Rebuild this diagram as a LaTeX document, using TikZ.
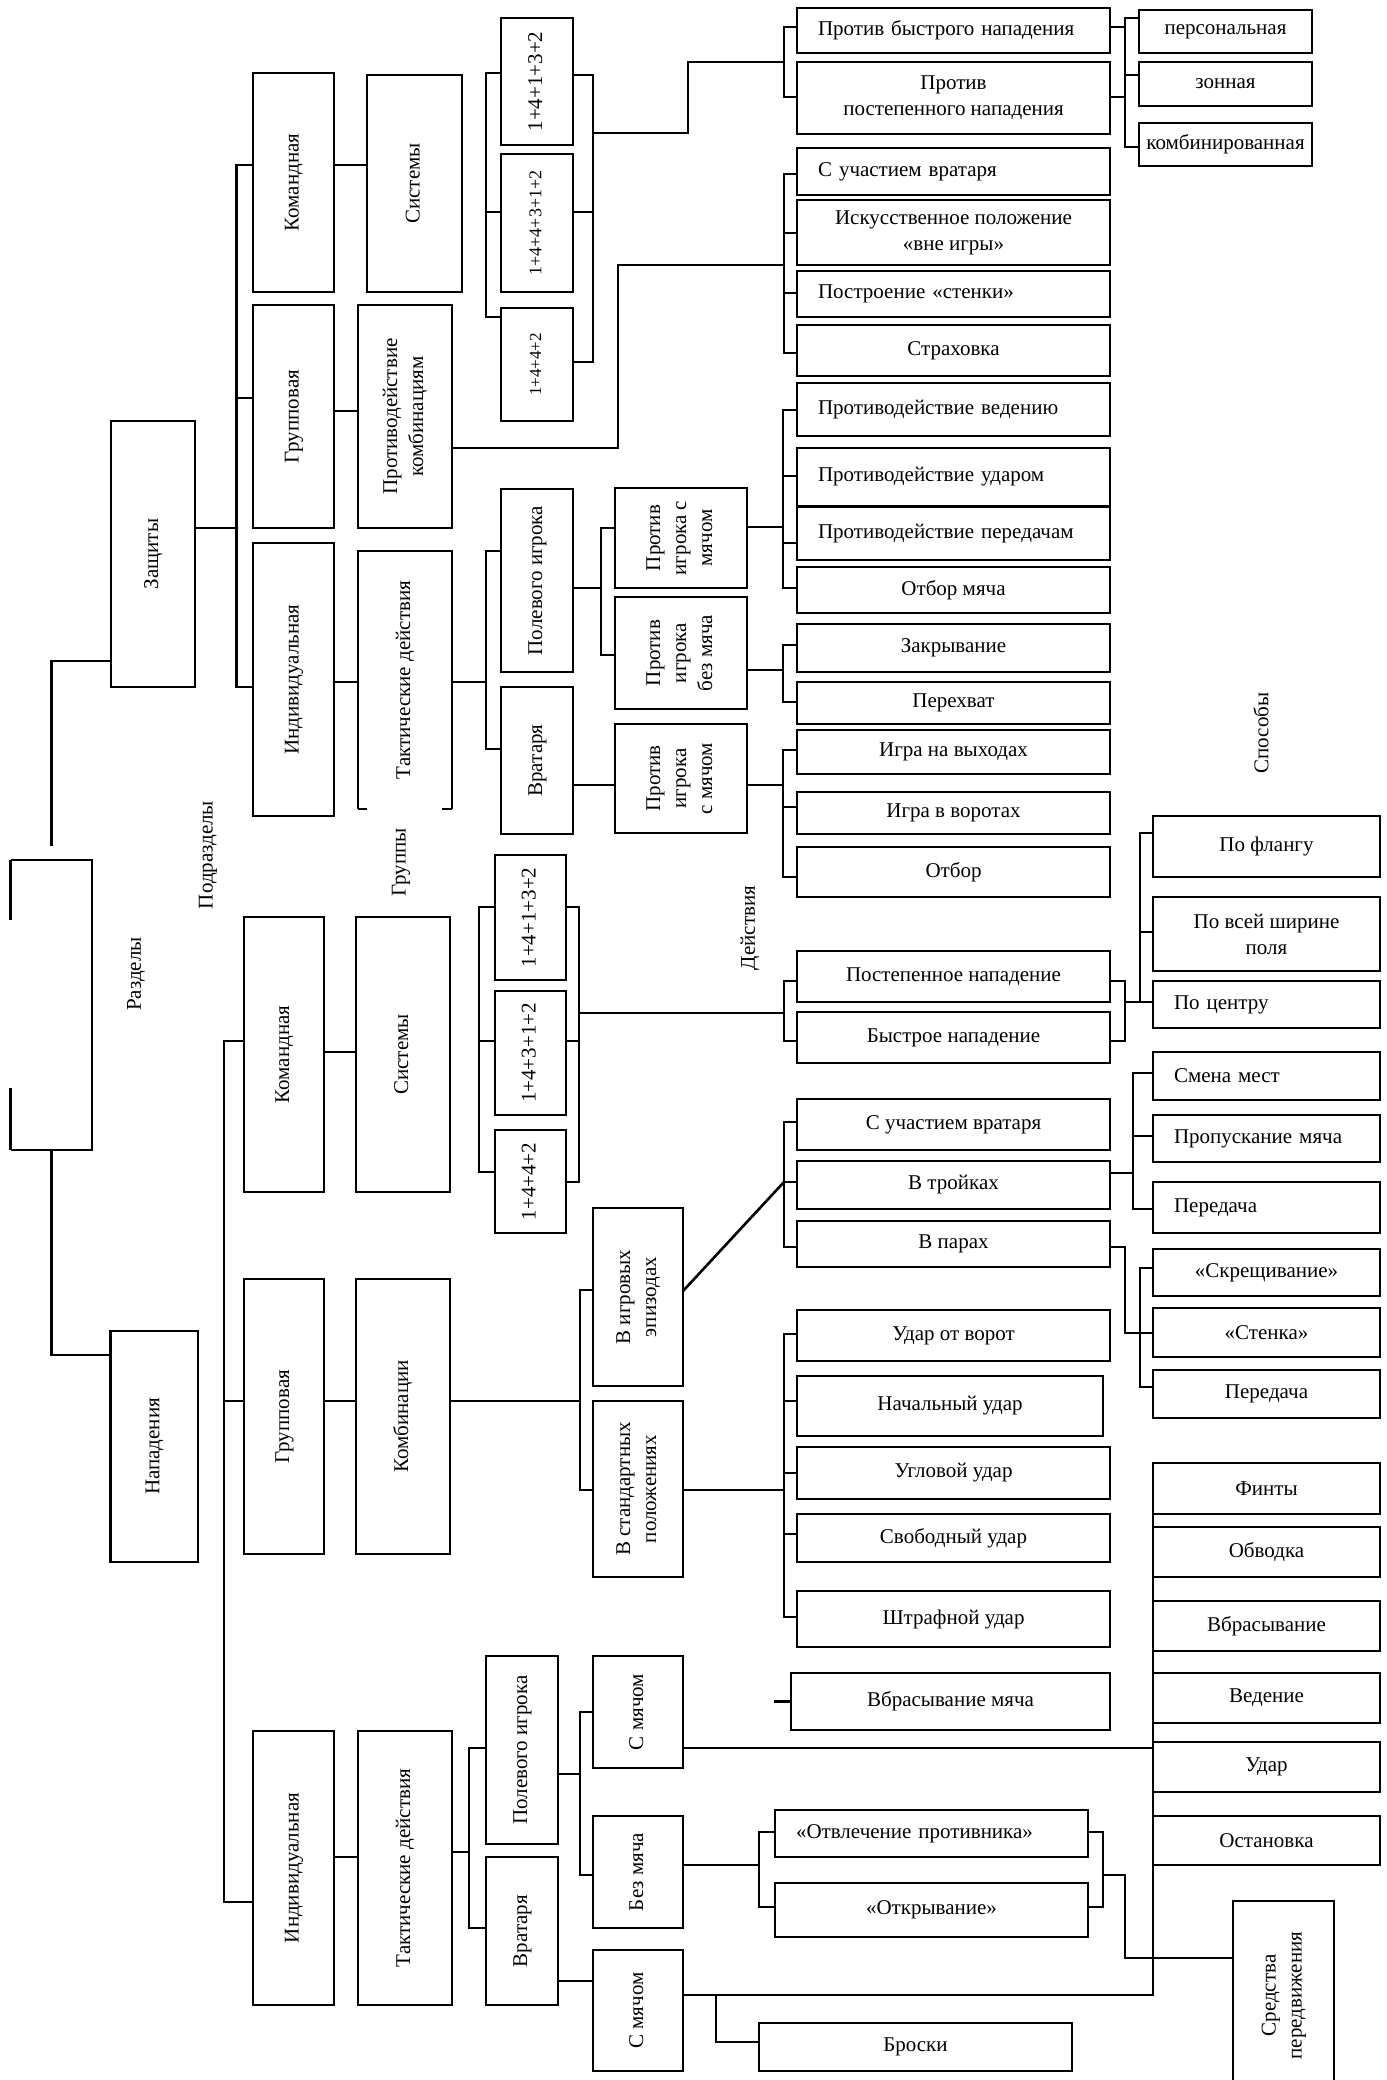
\documentclass[tikz,border=0pt]{standalone}
\usepackage{fontspec}
\setmainfont{Liberation Serif}
\usepackage{graphicx}
\newcommand\fnorm{\fontsize{10.5}{13}\selectfont}
\newcommand\fsmall{\fontsize{9}{11}\selectfont}
\newcommand\fsmaller{\fontsize{8.5}{10}\selectfont}
\newcommand\rtx[1]{\rotatebox{90}{\begin{tabular}{@{}c@{}}#1\end{tabular}}}
\newcommand\mybox[7][]{%
 \pgfmathsetmacro\bw{(#5-#3)*0.5}\pgfmathsetmacro\bh{(#6-#4)*0.5}%
 \node[box,minimum width=\bw pt,minimum height=\bh pt,#1] (#2) at ({(#3+#5)/2},{(#4+#6)/2}) {#7};}
\newcommand\myboxl[7][]{%
 \pgfmathsetmacro\bw{(#5-#3)*0.5}\pgfmathsetmacro\bh{(#6-#4)*0.5}\pgfmathsetmacro\tw{(#5-#3)*0.5-21}%
 \node[box,minimum width=\bw pt,minimum height=\bh pt,text width=\tw pt,align=left,#1] (#2) at ({(#3+#5)/2},{(#4+#6)/2}) {#7};}
\begin{document}
\begin{tikzpicture}[x=0.5pt,y=-0.5pt,line width=1.3pt,
  box/.style={draw,inner sep=0pt,outer sep=0pt,align=center,font=\fnorm},
  lbl/.style={inner sep=0pt,font=\fnorm,rotate=90}]
\useasboundingbox (0,0) rectangle (1386,2080);
% ---------- root ----------
\mybox[draw=none]{root}{10.6}{860}{92}{1150}{}
\draw (root.north west) -- ++(0,60);
\draw (root.south west) -- ++(0,-62);
\draw (root.north west) -- (root.north east) -- (root.south east) -- (root.south west);
\node[lbl] (lrazd) at (136,974) {Разделы};
\node[lbl] (lpodr) at (208,855) {Подразделы};
\node[lbl] (lgrup) at (401,862) {Группы};
\node[lbl] (ldeis) at (750,928) {Действия};
\node[lbl] (lspos) at (1261,733) {Способы};
% ---------- defence ----------
\mybox{zash}{111}{421}{195}{687}{\rtx{Защиты}}
\mybox{dkom}{253}{73}{334}{292}{\rtx{Командная}}
\mybox{dsys}{367}{75}{462}{292}{\rtx{Системы}}
\mybox{dgrp}{253}{305}{334}{528}{\rtx{Групповая}}
\mybox{dprk}{358}{305}{452}{528}{\rtx{Противодействие\\комбинациям}}
\mybox{dind}{253}{543}{334}{816}{\rtx{Индивидуальная}}
\mybox[draw=none]{dtak}{358}{551}{452}{809}{\rtx{Тактические действия}}
\draw (dtak.south west) -- (dtak.north west) -- (dtak.north east) -- (dtak.south east);
\draw (dtak.south west) -- ++(9,0);
\draw (dtak.south east) -- ++(-10,0);
\mybox{ds1}{501}{18}{573}{145}{\rtx{1+4+1+3+2}}
\mybox[font=\fsmall]{ds2}{501}{154}{573}{292}{\rtx{1+4+4+3+1+2}}
\mybox[font=\fsmaller]{ds3}{501}{308}{573}{421}{\rtx{1+4+4+2}}
\mybox{dpol}{501}{489}{573}{672}{\rtx{Полевого игрока}}
\mybox{dvr}{501}{687}{573}{834}{\rtx{Вратаря}}
\mybox{dpsm}{615}{488}{747}{588}{\rtx{Против\\игрока с\\мячом}}
\mybox{dpbm}{615}{597}{747}{709}{\rtx{Против\\игрока\\без мяча}}
\mybox{dpvm}{615}{724}{747}{833}{\rtx{Против\\игрока\\с мячом}}
\myboxl{dbys}{797}{8}{1110}{53}{Против быстрого нападения}
\mybox{dpos}{797}{62}{1110}{134}{Против\\постепенного нападения}
\mybox{dpers}{1139}{10}{1312}{53}{персональная}
\mybox{dzon}{1139}{62}{1312}{106}{зонная}
\mybox{dkomb}{1139}{123}{1312}{166}{комбинированная}
\myboxl{dsuv}{797}{148}{1110}{195}{С участием вратаря}
\mybox{disk}{797}{200}{1110}{265}{Искусственное положение\\«вне игры»}
\myboxl{dpst}{797}{271}{1110}{317}{Построение «стенки»}
\mybox{dstr}{797}{325}{1110}{376}{Страховка}
\myboxl{dpv}{797}{383}{1110}{436}{Противодействие ведению}
\myboxl{dpu}{797}{448}{1110}{506}{Противодействие ударом}
\myboxl{dpp}{797}{507}{1110}{560}{Противодействие передачам}
\mybox{dotb}{797}{567}{1110}{613}{Отбор мяча}
\mybox{dzak}{797}{624}{1110}{672}{Закрывание}
\mybox{dper}{797}{682}{1110}{724}{Перехват}
\mybox{digv}{797}{730}{1110}{774}{Игра на выходах}
\mybox{digvr}{797}{792}{1110}{834}{Игра в воротах}
\mybox{dotb2}{797}{847}{1110}{897}{Отбор}
% defence connectors
\draw (root.north) ++(0,-14) |- (zash.west|-0,661);
\draw (zash.east|-0,528) -- (236.5,528);
\draw (dkom.west|-0,165) -| (236.5,687) -- (dind.west|-0,687);
\draw (236.5,398) -- (dgrp.west|-0,398);
\draw (dkom.east|-0,165) -- (dsys.west|-0,165);
\draw (dgrp.east|-0,411) -- (dprk.west|-0,411);
\draw (dind.east|-0,682) -- (dtak.west|-0,682);
\draw (ds1.west|-0,73) -| (486,317) -- (ds3.west|-0,317);
\draw (486,212) -- (ds2.west|-0,212);
\draw (ds1.east|-0,75) -| (593,362) -- (ds3.east|-0,362);
\draw (ds2.east|-0,212) -- (593,212);
\draw (593,133) -| (688,62) -- (784,62);
\draw (dbys.west|-0,27) -| (784,97) -- (dpos.west|-0,97);
\draw (dbys.east|-0,27) -- (1125,27);
\draw (dpos.east|-0,97) -- (1125,97);
\draw (dpers.west|-0,18) -| (1125,147) -- (dkomb.west|-0,147);
\draw (1125,75) -- (dzon.west|-0,75);
\draw (dprk.east|-0,448) -| (618,265) -- (784,265);
\draw (dsuv.west|-0,174) -| (784,353) -- (dstr.west|-0,353);
\draw (784,233) -- (disk.west|-0,233);
\draw (784,293) -- (dpst.west|-0,293);
\draw (dtak.east|-0,682) -- (486,682);
\draw (dpol.west|-0,551) -| (486,749) -- (dvr.west|-0,749);
\draw (dpol.east|-0,588) -- (601,588);
\draw (dpsm.west|-0,528) -| (601,655) -- (dpbm.west|-0,655);
\draw (dvr.east|-0,785) -- (dpvm.west|-0,785);
\draw (dpsm.east|-0,527) -- (783,527);
\draw (dpv.west|-0,410) -| (783,588) -- (dotb.west|-0,588);
\draw (783,476) -- (dpu.west|-0,476);
\draw (783,543) -- (dpp.west|-0,543);
\draw (dpbm.east|-0,670) -- (783,670);
\draw (dzak.west|-0,645) -| (783,702) -- (dper.west|-0,702);
\draw (dpvm.east|-0,785) -- (783,785);
\draw (digv.west|-0,750) -| (783,877) -- (dotb2.west|-0,877);
\draw (783,807) -- (digvr.west|-0,807);
% ---------- attack ----------
\mybox{nap}{110.5}{1331}{198}{1562}{\rtx{Нападения}}
\mybox{akom}{244}{917}{324}{1192}{\rtx{Командная}}
\mybox{asys}{356}{917}{450}{1192}{\rtx{Системы}}
\mybox{agrp}{244}{1279}{324}{1554}{\rtx{Групповая}}
\mybox{akmb}{356}{1279}{450}{1554}{\rtx{Комбинации}}
\mybox{aind}{253}{1731}{334}{2005}{\rtx{Индивидуальная}}
\mybox{atak}{358}{1731}{452}{2005}{\rtx{Тактические действия}}
\mybox{as1}{495}{855}{566}{980}{\rtx{1+4+1+3+2}}
\mybox{as2}{495}{991}{566}{1115}{\rtx{1+4+3+1+2}}
\mybox{as3}{495}{1130}{566}{1233}{\rtx{1+4+4+2}}
\mybox{aepi}{593}{1208}{683}{1386}{\rtx{В игровых\\эпизодах}}
\mybox{astd}{593}{1401}{683}{1577}{\rtx{В стандартных\\положениях}}
\mybox{apol}{486}{1656}{558}{1844}{\rtx{Полевого игрока}}
\mybox{avr}{486}{1857}{558}{2005}{\rtx{Вратаря}}
\mybox{asm}{593}{1656}{683}{1768}{\rtx{С мячом}}
\mybox{abm}{593}{1816}{683}{1928}{\rtx{Без мяча}}
\mybox{asm2}{593}{1950}{683}{2071}{\rtx{С мячом}}
\mybox{apos}{797}{951}{1110}{1002}{Постепенное нападение}
\mybox{abys}{797}{1012}{1110}{1063}{Быстрое нападение}
\mybox{aflang}{1153}{816}{1380}{877}{По флангу}
\mybox{ashir}{1153}{897}{1380}{971}{По всей ширине\\поля}
\myboxl{acen}{1153}{981}{1380}{1028}{По центру}
\mybox{asuv}{797}{1099}{1110}{1150}{С участием вратаря}
\mybox{atro}{797}{1161}{1110}{1209}{В тройках}
\mybox{apar}{797}{1221}{1110}{1267}{В парах}
\myboxl{asmm}{1153}{1052}{1380}{1100}{Смена мест}
\myboxl{apro}{1153}{1115}{1380}{1162}{Пропускание мяча}
\myboxl{aper1}{1153}{1182}{1380}{1233}{Передача}
\mybox{askr}{1153}{1249}{1380}{1296}{«Скрещивание»}
\mybox{aste}{1153}{1308}{1380}{1357}{«Стенка»}
\mybox{aper2}{1153}{1370}{1380}{1418}{Передача}
\mybox{audv}{797}{1310}{1110}{1361}{Удар от ворот}
\mybox{anach}{797}{1376}{1103}{1436}{Начальный удар}
\mybox{aug}{797}{1447}{1110}{1499}{Угловой удар}
\mybox{asvob}{797}{1514}{1110}{1562}{Свободный удар}
\mybox{ashtr}{797}{1591}{1110}{1647}{Штрафной удар}
\mybox{avbm}{791}{1673}{1110}{1730}{Вбрасывание мяча}
\mybox{afin}{1153}{1463}{1380}{1514}{Финты}
\mybox{aobv}{1153}{1527}{1380}{1577}{Обводка}
\mybox{avbr}{1153}{1601}{1380}{1651}{Вбрасывание}
\mybox{aved}{1153}{1673}{1380}{1723}{Ведение}
\mybox{aud}{1153}{1742}{1380}{1792}{Удар}
\mybox{aost}{1153}{1816}{1380}{1865}{Остановка}
\myboxl{aotv}{775}{1810}{1088}{1857}{«Отвлечение противника»}
\mybox{aotk}{775}{1883}{1088}{1937}{«Открывание»}
\mybox{abr}{759}{2023}{1072}{2071}{Броски}
\mybox{asr}{1233}{1901}{1334}{2090}{\rtx{Средства\\передвижения}}
% attack connectors
\draw (root.south) |- (nap.west|-0,1355);
\draw (akom.west|-0,1041) -| (224,1902) -- (aind.west|-0,1902);
\draw (224,1401) -- (agrp.west|-0,1401);
\draw (akom.east|-0,1052) -- (asys.west|-0,1052);
\draw (agrp.east|-0,1401) -- (akmb.west|-0,1401);
\draw (aind.east|-0,1857) -- (atak.west|-0,1857);
\draw (as1.west|-0,907) -| (479,1172) -- (as3.west|-0,1172);
\draw (479,1041) -- (as2.west|-0,1041);
\draw (as1.east|-0,907) -| (579,1182) -- (as3.east|-0,1182);
\draw (as2.east|-0,1041) -- (579,1041);
\draw (579,1013) -- (784,1013);
\draw (apos.west|-0,981) -| (784,1041) -- (abys.west|-0,1041);
\draw (apos.east|-0,981) -| (1125,1041) -- (abys.east|-0,1041);
\draw (1125,1002) -- (acen.west|-0,1002);
\draw (aflang.west|-0,833) -| (1140,1002);
\draw (1140,932) -- (ashir.west|-0,932);
\draw (akmb.east|-0,1401) -- (580,1401);
\draw (aepi.west|-0,1290) -| (580,1490) -- (astd.west|-0,1490);
\draw (aepi.east|-0,1291) -- (784,1182);
\draw (asuv.west|-0,1122) -| (784,1247) -- (apar.west|-0,1247);
\draw (784,1182) -- (atro.west|-0,1182);
\draw (atro.east|-0,1173) -- (1133,1173);
\draw (asmm.west|-0,1073) -| (1133,1209) -- (aper1.west|-0,1209);
\draw (1133,1136) -- (apro.west|-0,1136);
\draw (apar.east|-0,1247) -| (1125,1333) -- (aste.west|-0,1333);
\draw (askr.west|-0,1268) -| (1140,1387) -- (aper2.west|-0,1387);
\draw (astd.east|-0,1490) -- (784,1490);
\draw (audv.west|-0,1334) -| (784,1617) -- (ashtr.west|-0,1617);
\draw (784,1401) -- (anach.west|-0,1401);
\draw (784,1473) -- (aug.west|-0,1473);
\draw (784,1534) -- (asvob.west|-0,1534);
\draw (avbm.west) ++(-17,0) -- (avbm.west);
\draw (atak.east|-0,1852) -- (469,1852);
\draw (apol.west|-0,1748) -| (469,1928) -- (avr.west|-0,1928);
\draw (apol.east|-0,1774) -- (580,1774);
\draw (asm.west|-0,1712) -| (580,1875) -- (abm.west|-0,1875);
\draw (avr.east|-0,1981) -- (asm2.west|-0,1981);
\draw (asm.east|-0,1748) -- (1153,1748);
\draw (afin.north west) -- (1153,1995) -- (asm2.east|-0,1995);
\draw (716,1995) |- (abr.west|-0,2042);
\draw (abm.east|-0,1865) -- (759,1865);
\draw (aotv.west|-0,1832) -| (759,1907) -- (aotk.west|-0,1907);
\draw (aotv.east|-0,1832) -| (1103,1907) -- (aotk.east|-0,1907);
\draw (1103,1875) -| (1125,1958) -- (asr.west|-0,1958);
\end{tikzpicture}
\end{document}
